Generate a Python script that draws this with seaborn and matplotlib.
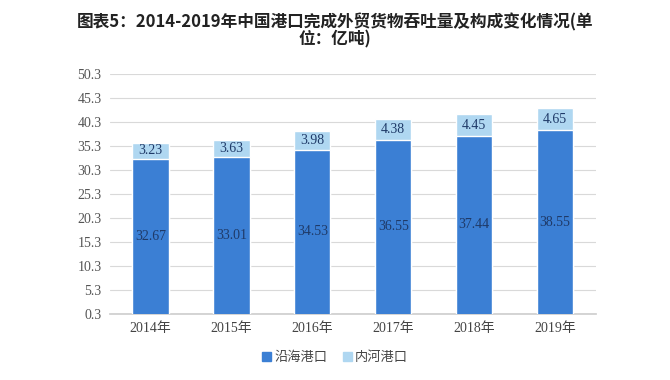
import matplotlib
matplotlib.use("Agg")
import matplotlib.pyplot as plt
import seaborn as sns
import pandas as pd
from matplotlib.patches import Patch

years = ["2014年", "2015年", "2016年", "2017年", "2018年", "2019年"]
coastal = [32.67, 33.01, 34.53, 36.55, 37.44, 38.55]
inland = [3.23, 3.63, 3.98, 4.38, 4.45, 4.65]
series_names = ["沿海港口", "内河港口"]
yticks = [0.3, 5.3, 10.3, 15.3, 20.3, 25.3, 30.3, 35.3, 40.3, 45.3, 50.3]
title = "图表5：2014-2019年中国港口完成外贸货物吞吐量及构成变化情况(单\n位：亿吨)"

sns.set_theme(style="white")
plt.rcParams['font.family'] = ['Noto Sans CJK SC', 'DejaVu Sans']
serif = ['Liberation Serif', 'Noto Sans CJK SC']

dark = "#3b7fd4"
light = "#afd7f1"
txt = "#1f3a68"

df = pd.DataFrame({"year": years, "coastal": coastal, "inland": inland})
df["total"] = df["coastal"] + df["inland"]

fig = plt.figure(figsize=(6.7, 3.8), dpi=100)
ax = fig.add_axes([0.164, 0.174, 0.725, 0.631])

sns.barplot(data=df, x="year", y="total", color=light, saturation=1, width=0.45, ax=ax, zorder=2)
sns.barplot(data=df, x="year", y="coastal", color=dark, saturation=1, width=0.45, ax=ax, zorder=3)

ax.set_ylim(0.3, 50.3)
ax.set_yticks(yticks)
ax.set_yticklabels([f"{v:.1f}" for v in yticks], family=serif, fontsize=10, color="#555555")
ax.set_xticks(range(len(years)))
ax.set_xticklabels(years, family=serif, fontsize=10, color="#444444")
ax.set_xlabel("")
ax.set_ylabel("")
ax.grid(axis="y", color="#d9d9d9", linewidth=0.8, zorder=0)
ax.set_axisbelow(True)
for s in ["top", "right", "left"]:
    ax.spines[s].set_visible(False)
ax.spines["bottom"].set_color("#cfcfcf")
ax.tick_params(axis="both", length=0, pad=6)

for i in range(len(years)):
    c = coastal[i]
    n = inland[i]
    ax.text(i, (0.3 + c) / 2, f"{c:.2f}", ha="center", va="center", fontsize=10, color=txt, family=serif, zorder=5)
    ax.text(i, c + n / 2, f"{n:.2f}", ha="center", va="center", fontsize=10, color=txt, family=serif, zorder=5)

fig.text(0.5, 0.965, title, ha="center", va="top", fontsize=12, fontweight="bold", color="#222222", linespacing=0.95)

handles = [Patch(facecolor=dark, edgecolor=dark), Patch(facecolor=light, edgecolor=light)]
fig.legend(handles, series_names, loc="center", bbox_to_anchor=(0.5, 0.058), ncol=2, frameon=False,
           handlelength=0.7, handleheight=0.7, handletextpad=0.2, columnspacing=1.2,
           prop={"size": 9.5}, labelcolor="#444444")

fig.savefig("out.png", dpi=100, facecolor="white")
